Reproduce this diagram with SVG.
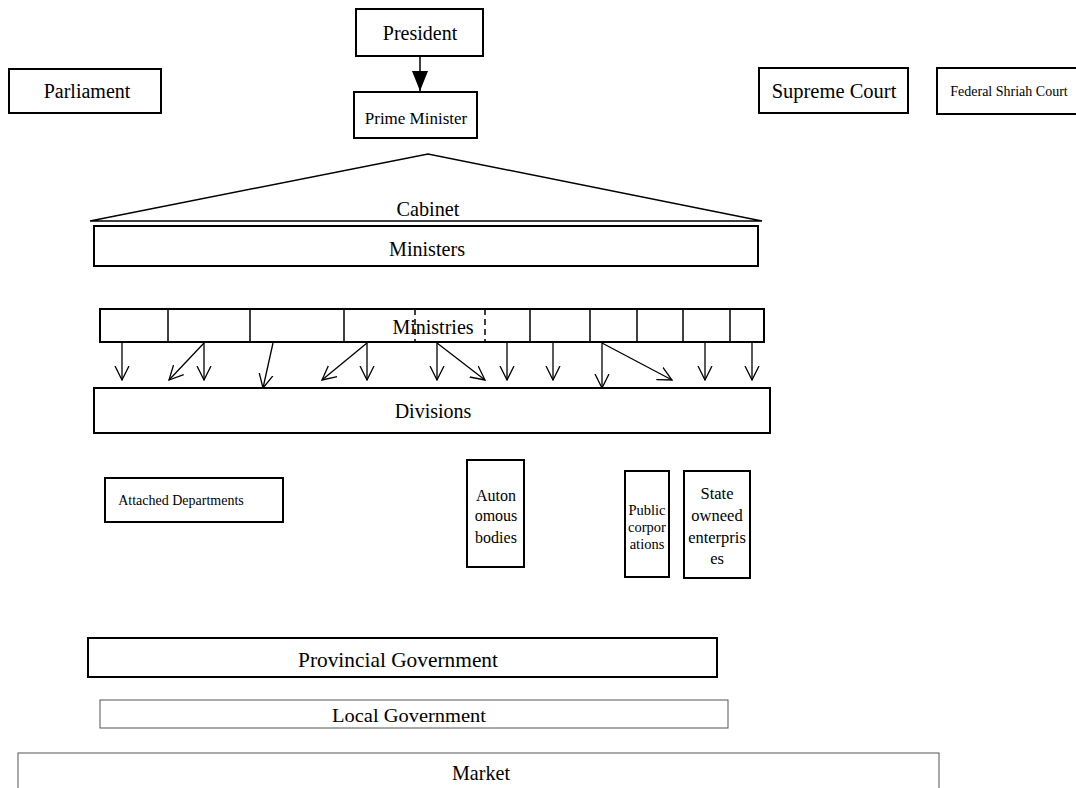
<svg xmlns="http://www.w3.org/2000/svg" width="1076" height="788" viewBox="0 0 1076 788">
<style>
text{font-family:"Liberation Serif","Times New Roman",serif;fill:#000;text-anchor:middle}
.b{fill:#fff;stroke:#000;stroke-width:2}
.t{fill:#fff;stroke:#555;stroke-width:1}
.c{fill:none;stroke:#000;stroke-width:1.3}
</style>
<defs>
<marker id="open" viewBox="0 0 15 16" refX="14" refY="8" markerWidth="15" markerHeight="16" markerUnits="userSpaceOnUse" orient="auto"><path d="M0,1 L14,8 L0,15" fill="none" stroke="#000" stroke-width="1.3"/></marker>
<marker id="fill" viewBox="0 0 20 16" refX="20" refY="8" markerWidth="20" markerHeight="16" markerUnits="userSpaceOnUse" orient="auto"><path d="M0,0 L20,8 L0,16 Z" fill="#000"/></marker>
</defs>
<rect width="1076" height="788" fill="#fff"/>
<g id="president"><rect class="b" x="356" y="9" width="127" height="47"/><text x="420" y="40" font-size="20">President</text></g>
<g id="prime-minister"><rect class="b" x="354" y="92" width="123" height="46"/><text x="416" y="124" font-size="17">Prime Minister</text></g>
<g id="parliament"><rect class="b" x="9" y="69" width="152" height="44"/><text x="87" y="98" font-size="20">Parliament</text></g>
<g id="supreme-court"><rect class="b" x="759" y="68" width="149" height="45"/><text x="834" y="98" font-size="20.5">Supreme Court</text></g>
<g id="federal-shriah-court"><rect class="b" x="937" y="68" width="145" height="46"/><text x="1009" y="96" font-size="14">Federal Shriah Court</text></g>
<g id="cabinet"><path d="M90,221 L428,154 L762,221 Z" fill="none" stroke="#000" stroke-width="1.5"/><text x="428" y="216" font-size="21" textLength="63" lengthAdjust="spacingAndGlyphs">Cabinet</text></g>
<g id="ministers"><rect class="b" x="94" y="226" width="664" height="40"/><text x="427" y="256" font-size="21" textLength="76" lengthAdjust="spacingAndGlyphs">Ministers</text></g>
<g id="ministries"><rect class="b" x="100" y="309" width="664" height="33"/>
<g stroke="#000" stroke-width="1.5"><line x1="168" y1="309" x2="168" y2="342"/><line x1="250" y1="309" x2="250" y2="342"/><line x1="344" y1="309" x2="344" y2="342"/><line x1="530" y1="309" x2="530" y2="342"/><line x1="590" y1="309" x2="590" y2="342"/><line x1="637" y1="309" x2="637" y2="342"/><line x1="683" y1="309" x2="683" y2="342"/><line x1="730" y1="309" x2="730" y2="342"/></g>
<g stroke="#000" stroke-width="1.5" stroke-dasharray="6,4"><line x1="415" y1="309" x2="415" y2="342"/><line x1="485" y1="309" x2="485" y2="342"/></g>
<text x="433" y="334" font-size="20">Ministries</text></g>
<g id="divisions"><rect class="b" x="94" y="388" width="676" height="45"/><text x="433" y="418" font-size="20">Divisions</text></g>
<g id="attached-departments"><rect class="b" x="105" y="478" width="178" height="44"/><text x="181" y="505" font-size="14">Attached Departments</text></g>
<g id="autonomous-bodies"><rect class="b" x="467" y="460" width="57" height="107"/><text x="496" y="501" font-size="16">Auton</text><text x="496" y="521" font-size="16">omous</text><text x="496" y="543" font-size="16">bodies</text></g>
<g id="public-corporations"><rect class="b" x="625" y="471" width="44" height="106"/><text x="647" y="515" font-size="14.5">Public</text><text x="647" y="532" font-size="14.5">corpor</text><text x="647" y="549" font-size="14.5">ations</text></g>
<g id="state-owned-enterprises"><rect class="b" x="684" y="471" width="66" height="107"/><text x="717" y="499" font-size="16.5">State</text><text x="717" y="521" font-size="16.5">owneed</text><text x="717" y="543" font-size="16.5">enterpris</text><text x="717" y="564" font-size="16.5">es</text></g>
<g id="provincial-government"><rect class="b" x="88" y="638" width="629" height="39"/><text x="398" y="667" font-size="22" textLength="200" lengthAdjust="spacingAndGlyphs">Provincial Government</text></g>
<g id="local-government"><rect class="t" x="100" y="700" width="628" height="28"/><text x="409" y="722" font-size="19" textLength="154" lengthAdjust="spacingAndGlyphs">Local Government</text></g>
<g id="market"><rect class="t" x="18" y="753" width="921" height="60"/><text x="481" y="780" font-size="21" textLength="58" lengthAdjust="spacingAndGlyphs">Market</text></g>
<g id="connectors">
<line x1="420" y1="56" x2="420" y2="91" stroke="#000" stroke-width="1.5" marker-end="url(#fill)"/>
<line class="c" x1="122" y1="343" x2="122" y2="380" marker-end="url(#open)"/>
<line class="c" x1="204" y1="343" x2="169" y2="380" marker-end="url(#open)"/>
<line class="c" x1="204" y1="343" x2="204" y2="380" marker-end="url(#open)"/>
<line class="c" x1="273" y1="343" x2="263" y2="388" marker-end="url(#open)"/>
<line class="c" x1="367" y1="343" x2="322" y2="380" marker-end="url(#open)"/>
<line class="c" x1="367" y1="343" x2="367" y2="380" marker-end="url(#open)"/>
<line class="c" x1="437" y1="343" x2="437" y2="380" marker-end="url(#open)"/>
<line class="c" x1="437" y1="343" x2="485" y2="380" marker-end="url(#open)"/>
<line class="c" x1="507" y1="343" x2="507" y2="380" marker-end="url(#open)"/>
<line class="c" x1="553" y1="343" x2="553" y2="380" marker-end="url(#open)"/>
<line class="c" x1="602" y1="343" x2="602" y2="388" marker-end="url(#open)"/>
<line class="c" x1="602" y1="343" x2="672" y2="380" marker-end="url(#open)"/>
<line class="c" x1="705" y1="343" x2="705" y2="380" marker-end="url(#open)"/>
<line class="c" x1="752" y1="343" x2="752" y2="380" marker-end="url(#open)"/>
</g>
</svg>
